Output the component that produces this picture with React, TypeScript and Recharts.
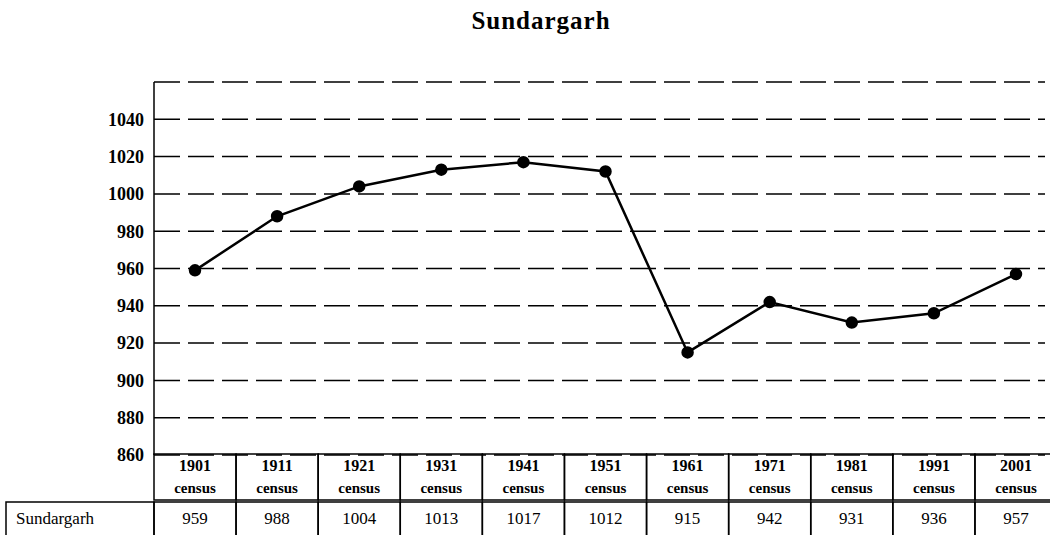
import { LineChart, Line, XAxis, YAxis, CartesianGrid } from "recharts";

const years = ["1901", "1911", "1921", "1931", "1941", "1951", "1961", "1971", "1981", "1991", "2001"];
const sexRatio = [959, 988, 1004, 1013, 1017, 1012, 915, 942, 931, 936, 957];
const yTicks = [860, 880, 900, 920, 940, 960, 980, 1000, 1020, 1040, 1060];
const seriesName = "Sundargarh";

const data = years.map((y, i) => ({ year: y, value: sexRatio[i] }));

const font = "'Liberation Serif', 'Times New Roman', serif";
const cellText = { fontFamily: font, fill: "#000" };

const TableTick = (props: any) => {
  const { x, y, payload, index } = props;
  const half = 41;
  const top = y - 1;
  return (
    <g>
      <rect x={x - half} y={top} width={half * 2} height={46} fill="none" stroke="#000" strokeWidth={1.5} />
      <text x={x} y={top + 17} textAnchor="middle" style={{ ...cellText, fontSize: 16, fontWeight: "bold" }}>
        {payload.value}
      </text>
      <text x={x} y={top + 39} textAnchor="middle" style={{ ...cellText, fontSize: 15, fontWeight: "bold" }}>
        census
      </text>
      <rect x={x - half} y={top + 48} width={half * 2} height={40} fill="none" stroke="#000" strokeWidth={1.5} />
      <text x={x} y={top + 70} textAnchor="middle" style={{ ...cellText, fontSize: 17 }}>
        {sexRatio[index]}
      </text>
      {index === 0 && (
        <g>
          <rect x={6} y={top + 48} width={x - half - 6} height={40} fill="none" stroke="#000" strokeWidth={1.5} />
          <text x={16} y={top + 70} style={{ ...cellText, fontSize: 17 }}>
            {seriesName}
          </text>
        </g>
      )}
    </g>
  );
};

const App = () => {
  return (
    <div style={{ position: "absolute", left: 0, top: 0, width: 1050, height: 535, background: "#fff" }}>
      <div
        style={{
          position: "absolute",
          left: 0,
          width: 1082,
          top: 7,
          textAlign: "center",
          fontFamily: font,
          fontWeight: "bold",
          fontSize: 25,
          letterSpacing: 1,
        }}
      >
        Sundargarh
      </div>
      <LineChart width={1050} height={535} data={data} margin={{ top: 82, right: 5, bottom: 0, left: 0 }}>
        <CartesianGrid vertical={false} stroke="#000" strokeWidth={1.5} strokeDasharray="26 8" />
        <XAxis
          dataKey="year"
          height={80}
          axisLine={false}
          tickLine={false}
          tickSize={0}
          tickMargin={0}
          interval={0}
          padding={{ left: 41, right: 29 }}
          tick={<TableTick />}
        />
        <YAxis
          width={154}
          domain={[860, 1060]}
          ticks={yTicks}
          interval={0}
          axisLine={{ stroke: "#000", strokeWidth: 1.5 }}
          tickLine={false}
          tickMargin={4}
          tickFormatter={(v: number) => (v === 1060 ? "" : String(v))}
          tick={{ fill: "#000", fontFamily: font, fontWeight: "bold", fontSize: 18 }}
        />
        <Line
          type="linear"
          dataKey="value"
          stroke="#000"
          strokeWidth={2.5}
          dot={{ r: 5, fill: "#000", stroke: "#000" }}
          isAnimationActive={false}
        />
      </LineChart>
    </div>
  );
};

export default App;
